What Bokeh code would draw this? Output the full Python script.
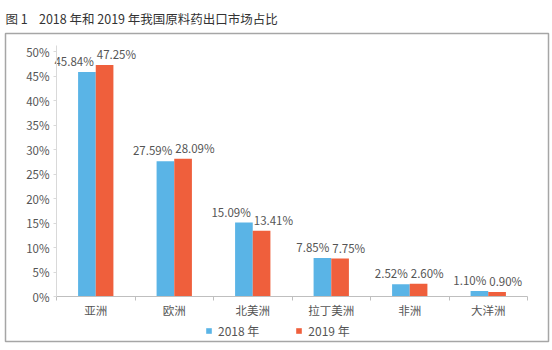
from bokeh.plotting import figure
from bokeh.models import (Range1d, FixedTicker, ColumnDataSource, Title,
                          Legend, LegendItem)
from bokeh.embed import file_html
from bokeh.resources import INLINE
from bokeh.core.properties import value

categories = ["亚洲", "欧洲", "北美洲", "拉丁美洲", "非洲", "大洋洲"]
share_2018 = [45.84, 27.59, 15.09, 7.85, 2.52, 1.10]
share_2019 = [47.25, 28.09, 13.41, 7.75, 2.60, 0.90]
y_ticks = [0, 5, 10, 15, 20, 25, 30, 35, 40, 45, 50]
series_names = ["2018 年", "2019 年"]
title_text = "图 1\u00a0\u00a0\u00a0 2018 年和 2019 年我国原料药出口市场占比"

BLUE = "#5AB4E6"
RED = "#EF5F3C"
TXT = "#555555"
FONT = "Noto Sans CJK SC"

# layout (pixels): the framed box and the inner plotting area
BOX_L, BOX_R, BOX_T, BOX_B = 5, 548, 33, 341
AX_L, AX_R, AX_0 = 56, 527, 296
PX_PER_PCT = 4.9
Y_TOP = 51.2

n = len(categories)
px_per_cat = (AX_R - AX_L) / n
x_start = -(AX_L - BOX_L) / px_per_cat
x_end = n + (BOX_R - AX_R) / px_per_cat
y_start = -(BOX_B - AX_0) / PX_PER_PCT
y_end = (AX_0 - BOX_T) / PX_PER_PCT

centers = [i + 0.5 for i in range(n)]
bw = 0.225

src = ColumnDataSource(dict(
    xc=centers,
    x18=[c - bw / 2 for c in centers],
    x19=[c + bw / 2 for c in centers],
    y18=share_2018,
    y19=share_2019,
    l18=[f"{v:.2f}%" for v in share_2018],
    l19=[f"{v:.2f}%" for v in share_2019],
))

p = figure(width=552, height=350, output_backend="svg", toolbar_location=None,
           x_range=Range1d(x_start, x_end), y_range=Range1d(y_start, y_end),
           min_border_left=BOX_L, min_border_right=552 - BOX_R,
           min_border_top=BOX_T, min_border_bottom=350 - BOX_B)
p.title = Title(text=title_text, align="left", offset=0, standoff=12,
                text_font=FONT, text_font_size="12.5px",
                text_font_style="normal", text_color="#333333")
p.outline_line_color = "#a6a6a6"
p.outline_line_width = 1.5
p.background_fill_color = "white"
p.border_fill_color = "white"
p.xgrid.visible = False
p.ygrid.visible = False

r18 = p.vbar(x="x18", top="y18", width=bw, source=src, fill_color=BLUE, line_color=None)
r19 = p.vbar(x="x19", top="y19", width=bw, source=src, fill_color=RED, line_color=None)

p.text(x="xc", y="y18", text="l18", source=src, text_align="right",
       text_baseline="bottom", x_offset=-2, y_offset=-3,
       text_font=value(FONT), text_font_size="11.5px", text_color=TXT)
p.text(x="xc", y="y19", text="l19", source=src, text_align="left",
       text_baseline="bottom", x_offset=1, y_offset=-3,
       text_font=value(FONT), text_font_size="11.5px", text_color=TXT)

xa = p.xaxis[0]
xa.fixed_location = 0
xa.bounds = (0, n)
xa.ticker = FixedTicker(ticks=centers, minor_ticks=list(range(n + 1)))
xa.major_label_overrides = {c: cat for c, cat in zip(centers, categories)}
xa.major_tick_in = 0
xa.major_tick_out = 0
xa.minor_tick_in = 0
xa.minor_tick_out = 4
xa.minor_tick_line_color = "#bfbfbf"
xa.axis_line_color = "#bfbfbf"
xa.major_label_standoff = 1
xa.major_label_text_font = FONT
xa.major_label_text_font_size = "11.5px"
xa.major_label_text_color = TXT

ya = p.yaxis[0]
ya.fixed_location = 0
ya.bounds = (0, Y_TOP)
ya.ticker = FixedTicker(ticks=y_ticks)
ya.major_label_overrides = {t: f"{t}%" for t in y_ticks}
ya.major_tick_in = 0
ya.major_tick_out = 3
ya.minor_tick_line_color = None
ya.major_tick_line_color = "#d9d9d9"
ya.axis_line_color = "#d9d9d9"
ya.major_label_standoff = 4
ya.major_label_text_font = FONT
ya.major_label_text_font_size = "11.5px"
ya.major_label_text_color = TXT

legend = Legend(items=[LegendItem(label=series_names[0], renderers=[r18]),
                       LegendItem(label=series_names[1], renderers=[r19])],
                orientation="horizontal", location=(200, 2),
                glyph_width=7, glyph_height=7, label_standoff=6, spacing=36,
                padding=0, margin=0, border_line_color=None,
                background_fill_alpha=0, label_text_font=FONT,
                label_text_font_size="12px", label_text_color=TXT)
p.add_layout(legend, "center")

open("out.html", "w").write(file_html(p, INLINE))
